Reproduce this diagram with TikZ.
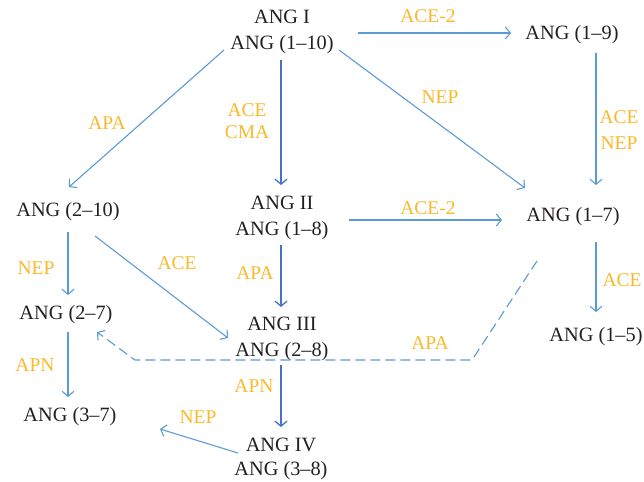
\documentclass[tikz,border=0pt]{standalone}
\usepackage{fontspec}
\setmainfont{Liberation Serif}
\usetikzlibrary{arrows.meta,calc}
\definecolor{txt}{RGB}{35,31,32}
\definecolor{lblue}{RGB}{91,155,213}
\definecolor{dblue}{RGB}{68,114,196}
\definecolor{lab}{RGB}{249,185,42}
\begin{document}
\begin{tikzpicture}[x=1pt,y=-1pt,
  ang/.style={text=txt,inner sep=0pt,align=center,font=\fontsize{20.3}{25.5}\selectfont},
  lbl/.style={text=lab,inner sep=0pt,align=center,font=\fontsize{19.5}{25}\selectfont},
  thin/.style={draw=lblue,line width=1.1pt,-{Straight Barb[length=5pt,width=12pt,line width=1.1pt]}},
  thick/.style={draw=dblue,line width=2.4pt,-{Straight Barb[length=5pt,width=12pt,line width=1.3pt]}},
  dashline/.style={draw=lblue,line width=1.1pt,dash pattern=on 10pt off 5pt,-{Straight Barb[length=5pt,width=12pt,line width=1.1pt]}}]
\useasboundingbox (0,0) rectangle (644,481);
% nodes
\node[ang] (ang1) at (282,32) {ANG I\\ANG (1--10)};
\node[ang] (ang19) at (572,35) {ANG (1--9)};
\node[ang] (ang210) at (68,212) {ANG (2--10)};
\node[ang] (ang2) at (282,218) {ANG II\\ANG (1--8)};
\node[ang] (ang17) at (573,217) {ANG (1--7)};
\node[ang] (ang27) at (66,315) {ANG (2--7)};
\node[ang] (ang3) at (282,339) {ANG III\\ANG (2--8)};
\node[ang] (ang15) at (596,337) {ANG (1--5)};
\node[ang] (ang37) at (70,417) {ANG (3--7)};
\node[ang,font=\fontsize{20.3}{24.5}\selectfont] (ang4) at (281,459) {ANG IV\\ANG (3--8)};
% labels
\node[lbl] (l1) at (428,16) {ACE-2};
\node[lbl] (l2) at (440,97) {NEP};
\node[lbl] (l3) at (107,123) {APA};
\node[lbl,font=\fontsize{19.5}{22}\selectfont] (l4) at (247,121) {ACE\\CMA};
\node[lbl,font=\fontsize{19.5}{26}\selectfont] (l5) at (619,130) {ACE\\NEP};
\node[lbl] (l6) at (428,208) {ACE-2};
\node[lbl] (l7) at (36,268) {NEP};
\node[lbl] (l8) at (177,263) {ACE};
\node[lbl] (l9) at (255,273) {APA};
\node[lbl] (l10) at (35,365) {APN};
\node[lbl] (l11) at (430,343) {APA};
\node[lbl] (l12) at (254,386) {APN};
\node[lbl] (l13) at (198,417) {NEP};
\node[lbl] (l14) at (622,280) {ACE};
% connectors
\draw[thin] ($(ang1)+(76,1)$) -- ($(ang19)+(-61,-2)$);
\draw[thin] ($(ang1)+(57,18)$) -- ($(ang17)+(-48,-29)$);
\draw[thin] ($(ang1)+(-58,18)$) -- ($(ang210)+(1,-25)$);
\draw[thick] ($(ang1)+(-1,28)$) -- ($(ang2)+(-1,-33)$);
\draw[thin] ($(ang19)+(24,18)$) -- ($(ang17)+(23,-32)$);
\draw[thin] ($(ang2)+(67,2)$) -- ($(ang17)+(-71,3)$);
\draw[thick] ($(ang2)+(-1,27)$) -- ($(ang3)+(-1,-32)$);
\draw[thin] ($(ang210)+(0,20)$) -- ($(ang27)+(2,-20)$);
\draw[thin] ($(ang210)+(27,24)$) -- ($(ang3)+(-54,-1)$);
\draw[thin] ($(ang27)+(2,17)$) -- ($(ang37)+(-2,-20)$);
\draw[thick] ($(ang3)+(-1,26)$) -- ($(ang4)+(0,-32)$);
\draw[thin] ($(ang4)+(-43,-6)$) -- ($(ang37)+(90,12)$);
\draw[thin] ($(ang17)+(23,25)$) -- ($(ang15)+(0,-25)$);
\coordinate (d1) at (472,360);
\coordinate (d2) at (135,360);
\draw[dashline] ($(ang17)+(-36,44)$) -- (d1) -- (d2) -- ($(ang27)+(31,17)$);
\end{tikzpicture}
\end{document}
